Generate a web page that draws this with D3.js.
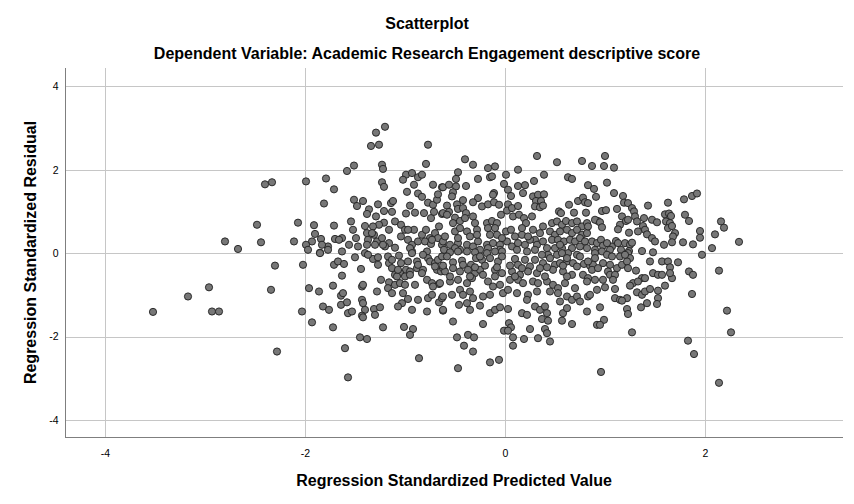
<!DOCTYPE html>
<html>
<head>
<meta charset="utf-8">
<script src="https://cdn.jsdelivr.net/npm/d3@7"></script>
<style>
  html, body { margin: 0; padding: 0; background: #ffffff; }
  svg { display: block; }
  text { font-family: "Liberation Sans", Arial, sans-serif; fill: #000; }
</style>
</head>
<body>
<svg id="chart" width="854" height="504"></svg>
<script>
// ---------------- data ----------------
const chartTitle = "Scatterplot";
const chartSubtitle = "Dependent Variable: Academic Research Engagement descriptive score";
const xAxisTitle = "Regression Standardized Predicted Value";
const yAxisTitle = "Regression Standardized Residual";
const xTicks = [-4, -2, 0, 2];
const yTicks = [4, 2, 0, -2, -4];
const xDomain = [-4.40, 3.38];
const yDomain = [-4.41, 4.44];

// [standardized predicted value, standardized residual]
const pointsFarLeft = [
  [-2.40,1.65],[-2.33,1.70],[-2.48,0.68],[-2.07,0.73],[-2.80,0.28],[-2.67,0.10],[-2.44,0.26],[-2.11,0.28],
  [-2.30,-0.30],[-2.96,-0.82],[-3.17,-1.04],[-3.52,-1.41],[-2.93,-1.40],[-2.86,-1.40],[-2.34,-0.88],[-2.28,-2.36]
];
const pointsLeftUpper = [
  [-1.20,3.03],[-1.29,2.89],[-1.34,2.57],[-1.26,2.60],[-0.77,2.60],[-1.51,2.10],[-1.58,1.97],[-1.23,2.12],[-1.22,2.02],[-0.79,2.14],
  [-1.99,1.72],[-1.79,1.79],[-1.71,1.53],[-1.23,1.70],[-1.21,1.59],[-1.81,1.19],[-1.51,1.28],[-1.48,1.13],[-1.42,1.25],[-1.36,1.05],
  [-1.38,0.94],[-1.27,1.17],[-1.21,1.01],[-1.14,1.20],[-1.12,1.25],[-1.13,0.99],
  [-0.99,1.88],[-0.93,1.92],[-0.87,1.82],[-0.83,1.88],[-1.02,1.76],[-0.91,1.64],[-0.72,1.64],[-0.63,1.58],
  [-0.98,1.47],[-0.87,1.43],[-0.83,1.35],[-0.77,1.21],[-0.72,1.16],[-0.68,1.28],[-0.67,1.41],
  [-0.95,1.14],[-0.99,0.95],[-0.90,0.97],[-0.81,0.96],[-0.74,0.84],[-0.71,0.99],[-0.63,0.94],
  [-1.29,0.88],[-1.21,0.73],[-1.26,0.68],[-1.16,0.56],[-1.10,0.76],[-1.04,0.68],[-1.00,0.56],[-0.91,0.56],[-0.83,0.44],
  [-0.79,0.56],[-0.75,0.36],[-0.70,0.48],[-0.66,0.64],
  [-1.91,0.67],[-1.71,0.66],[-1.54,0.76],[-1.52,0.56],[-1.40,0.65],[-1.32,0.64],
  [-1.90,0.46],[-1.84,0.34],[-1.93,0.28],[-1.99,0.20],[-1.97,0.08],[-1.85,0.01],[-1.77,0.16],[-1.70,0.34],[-1.63,0.36],
  [-1.66,0.32],[-1.56,0.20],[-1.49,0.36],[-1.47,0.16],[-1.38,0.48],[-1.37,0.32],[-1.31,0.44],[-1.28,0.28],[-1.23,0.36],
  [-1.16,0.24],[-1.20,0.16],[-1.10,0.13],[-1.04,0.40],[-0.97,0.32],[-0.93,0.20],[-0.87,0.28],[-0.80,0.28],[-0.74,0.22],
  [-0.67,0.36],[-0.63,0.20],[-1.63,0.04],[-1.40,0.00],[-0.93,0.04],[-0.78,0.04],
  [-1.83,0.20],[-1.77,0.08],[-1.33,0.48],[-1.38,0.20],[-1.30,0.20],[-1.22,0.20],[-0.97,0.56],[-0.73,0.32],[-0.95,0.12]
];
const pointsLeftLower = [
  [-2.02,-0.28],[-1.50,-0.10],[-1.71,-0.28],[-1.67,-0.20],[-1.61,-0.26],[-1.44,-0.38],
  [-1.32,-0.14],[-1.27,-0.10],[-1.27,-0.28],[-1.17,-0.08],[-1.16,-0.24],[-1.13,-0.36],[-1.06,-0.06],[-1.04,-0.24],[-0.97,-0.20],
  [-0.99,-0.40],[-0.95,-0.44],[-0.88,-0.20],[-0.88,-0.36],[-0.82,-0.40],[-0.77,-0.12],[-0.75,-0.20],[-0.70,-0.24],[-0.67,-0.16],
  [-0.68,-0.40],[-0.64,-0.44],[-0.62,-0.36],[-1.63,-0.54],
  [-1.10,-0.52],[-1.05,-0.48],[-1.08,-0.56],[-1.00,-0.56],[-0.95,-0.52],
  [-1.24,-0.64],[-1.16,-0.70],[-1.10,-0.76],[-1.05,-0.72],[-1.00,-0.76],[-0.90,-0.76],
  [-0.78,-0.64],[-0.73,-0.72],[-0.66,-0.74],[-0.72,-0.80],
  [-1.96,-0.84],[-1.86,-0.92],[-1.72,-0.78],[-1.64,-1.02],[-1.62,-0.96],[-1.43,-0.80],[-1.42,-0.76],[-1.28,-0.92],[-1.17,-0.84],[-1.13,-0.96],
  [-1.02,-0.96],[-0.97,-1.10],[-1.03,-1.20],[-1.07,-1.28],[-0.87,-1.12],[-0.77,-1.08],[-0.73,-1.00],[-0.66,-1.18],[-0.63,-1.08],
  [-1.82,-1.28],[-1.76,-1.36],[-1.64,-1.24],[-1.58,-1.18],[-1.43,-1.12],[-1.42,-1.20],[-1.40,-1.36],[-1.31,-1.34],[-1.25,-1.30],
  [-1.57,-1.44],[-1.53,-1.40],[-1.43,-1.50],[-1.42,-1.54],[-1.30,-1.48],[-2.03,-1.40],[-0.93,-1.36],[-0.78,-1.40],[-0.62,-1.38],
  [-1.93,-1.66],[-1.72,-1.78],[-1.22,-1.78],[-1.01,-1.77],[-0.92,-1.82],[-0.95,-1.96],
  [-1.45,-2.02],[-1.38,-2.06],[-1.60,-2.28],[-0.86,-2.52],[-1.57,-2.98],
  [-1.85,0.00],[-1.37,-0.04],[-1.13,-0.16],[-0.93,0.00],[-0.82,-0.04],[-0.63,-0.08],[-1.07,-0.40],[-0.87,-0.28],[-0.70,-0.32],[-0.83,-0.48]
];
const pointsMidUpper = [
  [-0.40,2.25],[-0.32,2.12],[-0.17,2.04],[-0.10,2.08],[0.32,2.33],[0.52,2.18],[0.77,2.21],[-0.47,1.94],[-0.49,1.78],[-0.27,1.78],
  [-0.15,1.82],[-0.13,1.84],[0.01,1.88],[0.13,2.00],[0.39,1.88],[0.63,1.82],[0.67,1.78],[0.29,1.73],[-0.01,1.66],[0.03,1.52],
  [0.06,1.37],[0.13,1.61],[0.20,1.63],[0.18,1.44],[0.83,1.63],
  [-0.62,1.58],[-0.56,1.64],[-0.49,1.60],[-0.52,1.46],[-0.53,1.36],[-0.39,1.61],[-0.11,1.44],[-0.12,1.40],
  [-0.27,1.32],[-0.32,1.22],[-0.42,1.27],[-0.48,1.17],[-0.58,1.14],[-0.56,0.99],[-0.62,0.96],[-0.58,0.92],
  [-0.23,1.12],[-0.17,1.17],[-0.11,1.22],[-0.06,1.16],[0.03,1.17],[-0.04,0.92],[0.02,1.02],[0.07,1.08],[0.13,1.13],
  [0.28,1.36],[0.33,1.40],[0.39,1.41],[0.31,1.25],[0.36,1.25],[0.30,1.12],[0.35,1.10],[0.38,1.14],
  [0.64,1.16],[0.73,1.25],[0.78,1.33],[0.80,1.22],[0.83,1.20],[0.54,1.00],[0.56,0.96],[0.69,0.97],[0.81,0.97],
  [-0.47,1.06],[-0.42,1.08],[-0.39,0.96],[-0.50,0.85],[-0.45,0.77],[-0.40,0.84],[-0.32,0.88],[-0.30,0.72],[-0.52,0.72],
  [-0.50,0.52],[-0.45,0.60],[-0.38,0.52],[-0.28,0.56],
  [-0.18,0.72],[-0.13,0.77],[-0.08,0.72],[-0.17,0.60],[-0.10,0.60],[-0.15,0.44],[-0.08,0.44],
  [0.01,0.52],[0.06,0.56],[0.10,0.40],[0.17,0.44],[0.08,0.88],[0.14,0.92],[0.19,0.84],[0.27,0.88],[0.21,0.72],[0.17,0.60],
  [0.28,0.56],[0.35,0.48],[0.30,0.32],[0.38,0.64],[0.47,0.72],[0.52,0.76],[0.57,0.68],[0.61,0.77],[0.67,0.72],[0.72,0.76],
  [0.77,0.64],[0.82,0.72],
  [0.45,0.52],[0.50,0.44],[0.55,0.52],[0.62,0.56],[0.67,0.48],[0.72,0.56],[0.77,0.44],[0.82,0.48],[0.47,0.32],[0.53,0.32],
  [0.59,0.28],[0.65,0.32],[0.70,0.28],[0.75,0.36],[0.80,0.28],
  [-0.62,0.28],[-0.55,0.20],[-0.47,0.24],[-0.38,0.20],[-0.32,0.16],[-0.27,0.28],[-0.18,0.20],[-0.12,0.24],[-0.05,0.20],[0.02,0.28],
  [0.07,0.16],[0.13,0.24],[0.20,0.20],[0.25,0.32],[0.32,0.20],[0.38,0.28],[0.42,0.12],[0.50,0.12],[0.57,0.12],[0.67,0.12],
  [0.75,0.16],[0.82,0.12],[-0.61,0.08],[-0.45,0.08],[-0.25,0.08],[-0.05,0.08],[0.12,0.08],[0.30,0.08],
  [-0.60,0.40],[-0.47,0.36],[-0.35,0.40],[-0.28,0.44],[-0.03,0.36],[0.23,0.40],[-0.50,0.12],[-0.17,0.12],[0.55,0.20]
];
const pointsMidLower = [
  [-0.55,0.02],[-0.47,0.04],[-0.38,0.04],[-0.30,0.02],[-0.18,0.00],[-0.10,0.04],[-0.03,0.04],[0.22,0.04],[0.43,-0.04],[0.52,-0.04],
  [0.63,0.00],[0.72,-0.04],
  [-0.52,-0.22],[-0.43,-0.18],[-0.42,-0.28],[-0.34,-0.28],[-0.29,-0.12],[-0.23,-0.16],[-0.15,-0.12],[-0.07,-0.20],[-0.03,-0.08],
  [0.10,-0.14],[0.13,-0.28],[0.20,-0.16],[0.25,-0.32],[0.30,-0.16],[0.38,-0.24],[0.45,-0.12],[0.50,-0.28],[0.55,-0.24],[0.62,-0.20],
  [0.68,-0.24],[0.79,-0.26],
  [-0.60,-0.44],[-0.52,-0.36],[-0.45,-0.44],[-0.37,-0.40],[-0.30,-0.48],[-0.25,-0.40],[-0.22,-0.52],[-0.10,-0.40],[-0.03,-0.48],
  [0.07,-0.44],[0.15,-0.52],[0.23,-0.44],[0.32,-0.48],[0.35,-0.36],[0.48,-0.40],[0.58,-0.44],[0.67,-0.52],[0.78,-0.52],[0.83,-0.60],
  [-0.65,-0.72],[-0.55,-0.68],[-0.47,-0.64],[-0.38,-0.72],[-0.33,-0.60],[-0.17,-0.68],[-0.12,-0.80],[-0.05,-0.76],[0.05,-0.64],
  [0.13,-0.64],[0.18,-0.72],[0.28,-0.68],[0.33,-0.72],[0.42,-0.68],[0.48,-0.76],[0.53,-0.84],[0.60,-0.72],[0.70,-0.84],[0.82,-0.68],
  [-0.62,-1.04],[-0.53,-1.00],[-0.45,-0.88],[-0.42,-1.00],[-0.35,-0.92],[-0.32,-1.08],[-0.22,-1.04],[-0.15,-1.00],[-0.02,-0.96],
  [0.03,-0.88],[0.12,-0.96],[0.23,-1.00],[0.32,-0.92],[0.45,-0.92],[0.53,-0.96],[0.55,-1.16],[0.62,-1.04],[0.67,-1.12],[0.72,-1.04],
  [0.75,-1.16],[0.83,-1.04],
  [-0.62,-1.36],[-0.46,-1.24],[-0.38,-1.20],[-0.35,-1.36],[-0.25,-1.26],[-0.15,-1.44],[-0.10,-1.36],[-0.05,-1.30],[0.03,-1.34],
  [0.17,-1.44],[0.22,-1.48],[0.22,-1.12],[0.30,-1.28],[0.35,-1.36],[0.40,-1.28],[0.42,-1.44],[0.37,-1.58],[0.43,-1.62],[0.58,-1.44],
  [0.62,-1.32],[0.82,-1.40],
  [-0.52,-1.64],[-0.22,-1.70],[0.04,-1.68],[0.06,-1.78],[-0.01,-1.86],[0.03,-1.86],[0.25,-1.82],[0.40,-1.82],[0.42,-1.92],
  [0.57,-1.62],[0.67,-1.70],
  [-0.48,-2.02],[-0.37,-1.96],[-0.31,-2.02],[-0.41,-2.22],[-0.32,-2.36],[0.08,-2.02],[0.08,-2.22],[0.19,-2.06],[0.33,-2.04],
  [0.45,-2.12],[-0.15,-2.62],[-0.06,-2.56],[-0.47,-2.76],
  [-0.58,-0.08],[-0.25,-0.08],[0.37,-0.04],[0.57,0.00],[0.62,-0.12],[0.75,-0.08],[-0.62,-0.30],[-0.30,-0.34],[-0.20,-0.30],
  [-0.08,-0.34],[0.05,-0.30],[0.17,-0.36],[0.42,-0.34],[0.58,-0.30],[0.72,-0.32],[0.85,-0.30],[-0.55,-0.56],[-0.35,-0.56],
  [-0.10,-0.56],[0.10,-0.56],[0.40,-0.56],[0.62,-0.56]
];
const pointsRightUpper = [
  [1.00,2.33],[0.87,2.09],[0.99,2.09],[1.09,2.05],[0.89,1.54],[0.91,1.35],[1.02,1.69],[1.09,1.44],[1.18,1.37],[1.19,1.21],
  [1.23,1.20],[1.27,1.08],[1.29,1.00],[1.43,1.14],[1.63,1.21],[1.79,1.29],[1.87,1.37],[1.92,1.43],[0.97,1.01],[1.01,1.03],
  [1.12,1.06],[0.93,0.77],[0.90,0.80],[0.95,0.74],[0.97,0.62],
  [1.17,0.88],[1.15,0.68],[1.13,0.57],[1.21,0.77],[1.23,0.80],[1.30,0.88],[1.32,0.76],[1.39,0.84],[1.47,0.80],[1.52,0.74],
  [1.38,0.65],[1.40,0.56],[1.33,0.52],[1.24,0.49],
  [1.60,0.93],[1.64,0.95],[1.66,0.89],[1.61,0.76],[1.65,0.72],[1.63,0.60],[1.67,0.65],[1.70,0.48],[1.68,0.40],[1.80,0.92],[1.84,0.77],
  [1.95,0.53],[1.95,0.37],[2.10,0.45],[2.16,0.76],[2.19,0.61],[2.34,0.27],
  [1.42,0.45],[1.47,0.36],[1.50,0.28],[1.59,0.20],[1.67,0.26],[1.78,0.26],[1.88,0.21],[2.07,0.12],[1.97,-0.04],
  [0.87,0.28],[0.92,0.24],[0.96,0.32],[0.98,0.18],[1.07,0.16],[1.11,0.29],[1.13,0.24],[1.20,0.24],[1.25,0.20],[1.27,0.25],
  [0.90,0.08],[1.05,0.08],[1.16,0.08],[1.24,0.05],[1.37,0.05],[1.48,0.02],[0.83,0.64],[1.02,0.24]
];
const pointsRightLower = [
  [0.90,0.00],[0.97,0.04],[1.02,-0.04],[1.07,-0.08],[1.15,-0.08],[1.23,0.00],[1.25,-0.12],
  [0.88,-0.28],[0.98,-0.24],[1.05,-0.28],[1.12,-0.36],[1.17,-0.28],[1.22,-0.20],
  [1.45,-0.20],[1.57,-0.20],[1.63,-0.20],[1.65,-0.34],[1.73,-0.22],
  [0.87,-0.40],[1.03,-0.44],[1.05,-0.52],[1.10,-0.52],[1.08,-0.64],[1.31,-0.42],
  [1.48,-0.48],[1.53,-0.52],[1.57,-0.52],[1.67,-0.60],[1.60,-0.78],[1.84,-0.44],[1.88,-0.52],[2.14,-0.42],
  [0.90,-0.64],[0.98,-0.64],[0.92,-0.88],[1.00,-0.82],[1.10,-0.86],[1.28,-0.72],[1.25,-0.78],[1.37,-0.60],[1.40,-0.60],[1.33,-0.68],
  [1.32,-0.94],[1.37,-1.00],[1.40,-0.92],[1.45,-0.86],[1.53,-0.90],[1.53,-1.08],[1.52,-1.22],[1.42,-1.20],[1.36,-1.30],
  [0.85,-1.00],[1.10,-1.08],[1.15,-1.12],[1.22,-1.08],[1.17,-1.14],[1.87,-0.98],
  [0.95,-1.30],[1.22,-1.34],[1.23,-1.46],[0.99,-1.60],[0.92,-1.72],[0.95,-1.72],
  [1.27,-1.90],[2.22,-1.38],[2.26,-1.90],[1.83,-2.10],[1.89,-2.42],[0.96,-2.85],[2.14,-3.11],
  [1.20,-0.04],[0.90,-0.12],[0.83,-0.20],[1.65,-0.48],[1.23,-0.36],[0.93,-0.36]
];

const allPoints = [].concat(pointsFarLeft, pointsLeftUpper, pointsLeftLower,
  pointsMidUpper, pointsMidLower, pointsRightUpper, pointsRightLower);

// ---------------- layout ----------------
const plot = { left: 65, right: 843, top: 68, bottom: 437 };
const svg = d3.select("#chart");

const x = d3.scaleLinear().domain(xDomain).range([plot.left, plot.right]);
const y = d3.scaleLinear().domain(yDomain).range([plot.bottom, plot.top]);

// titles
svg.append("text").attr("x", 427).attr("y", 29).attr("text-anchor", "middle")
  .style("font-size", "16px").style("font-weight", "bold").text(chartTitle);
svg.append("text").attr("x", 427).attr("y", 59).attr("text-anchor", "middle")
  .style("font-size", "16px").style("font-weight", "bold").text(chartSubtitle);

// gridlines
const grid = svg.append("g");
grid.selectAll("line.vx").data(xTicks).join("line")
  .attr("x1", d => Math.round(x(d)) + 0.5).attr("x2", d => Math.round(x(d)) + 0.5)
  .attr("y1", plot.top).attr("y2", plot.bottom)
  .attr("stroke", "#c6c6c6").attr("stroke-width", 1);
grid.selectAll("line.hy").data(yTicks).join("line")
  .attr("y1", d => Math.round(y(d)) + 0.5).attr("y2", d => Math.round(y(d)) + 0.5)
  .attr("x1", plot.left).attr("x2", plot.right)
  .attr("stroke", "#c6c6c6").attr("stroke-width", 1);

// axes (D3 axis generators, no tick marks, SPSS-like)
const xAxis = d3.axisBottom(x).tickValues(xTicks).tickSize(0).tickPadding(12)
  .tickFormat(d => d3.format("d")(d).replace("−", "-"));
const yAxis = d3.axisLeft(y).tickValues(yTicks).tickSize(0).tickPadding(7)
  .tickFormat(d => d3.format("d")(d).replace("−", "-"));

const gx = svg.append("g").attr("transform", `translate(0,${plot.bottom + 0.5})`).call(xAxis);
const gy = svg.append("g").attr("transform", `translate(${plot.left + 0.5},0)`).call(yAxis);
[gx, gy].forEach(g => {
  g.select(".domain").attr("stroke", "#7f7f7f").attr("stroke-width", 1);
  g.selectAll("text").style("font-size", "10.5px").attr("fill", "#000")
    .style("font-family", "'Liberation Sans', Arial, sans-serif");
});
gy.select(".domain").attr("d", `M0,${plot.top}V${plot.bottom}`);
gx.select(".domain").attr("d", `M${plot.left},0H${plot.right}`);

// axis titles
svg.append("text").attr("x", (plot.left + plot.right) / 2).attr("y", 486)
  .attr("text-anchor", "middle").style("font-size", "16px").style("font-weight", "bold")
  .text(xAxisTitle);
svg.append("text").attr("transform", `translate(36,${(plot.top + plot.bottom) / 2}) rotate(-90)`)
  .attr("text-anchor", "middle").style("font-size", "16px").style("font-weight", "bold")
  .text(yAxisTitle);

// points
svg.append("g").selectAll("circle").data(allPoints).join("circle")
  .attr("cx", d => x(d[0])).attr("cy", d => y(d[1])).attr("r", 3.6)
  .attr("fill", "#777777").attr("stroke", "#1e1e1e").attr("stroke-width", 0.9);
</script>
</body>
</html>
